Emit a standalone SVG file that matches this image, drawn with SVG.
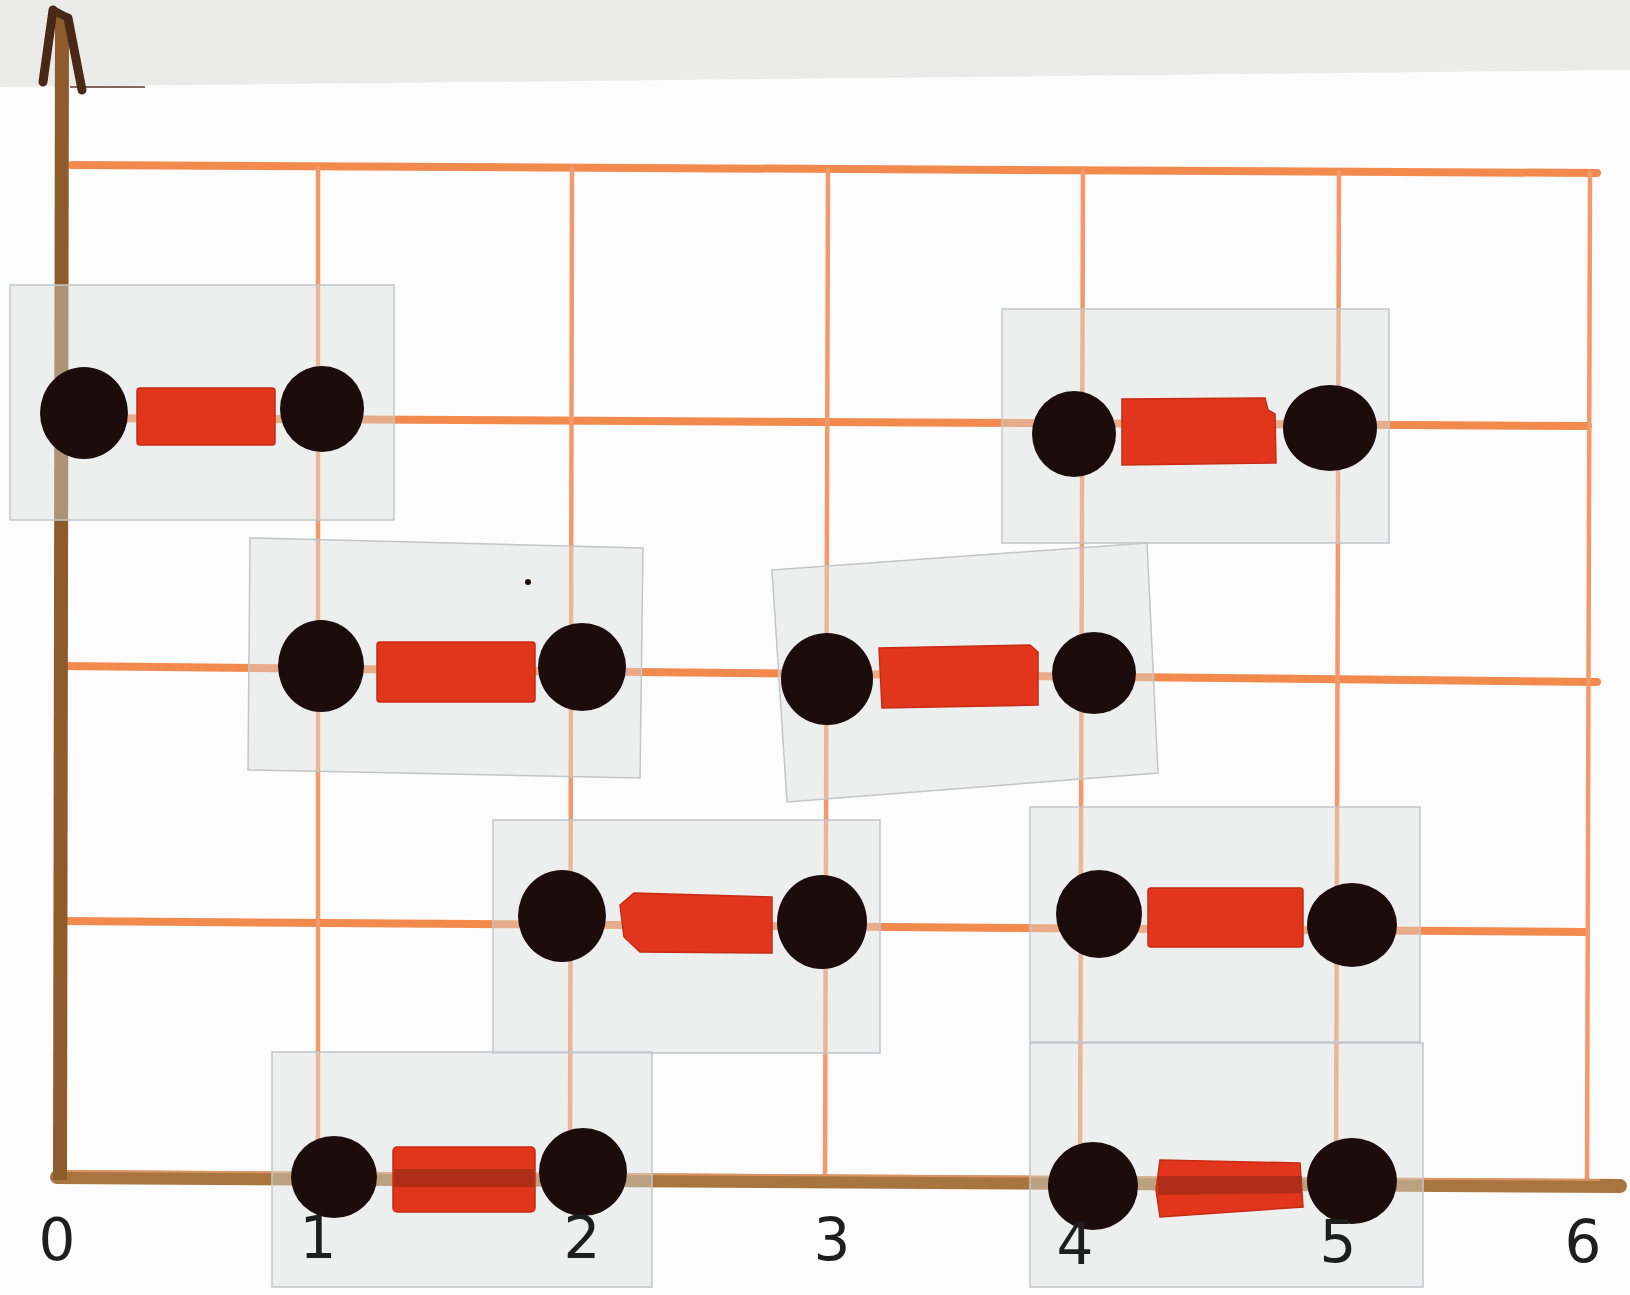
<svg xmlns="http://www.w3.org/2000/svg" width="1630" height="1295" viewBox="0 0 1630 1295">
<style>
.h{stroke:#f28a4e;stroke-width:8;stroke-linecap:round;fill:none}
.v{stroke:#f29a6c;stroke-width:4.5;stroke-linecap:round;fill:none}
.sheet{fill:#d9dddd;fill-opacity:0.42;stroke:#c2c6c6;stroke-width:1.5}
.bead{fill:#1c0d0c}
.tube{fill:#e2361c;stroke:#c92a14;stroke-width:1.5}
.band{fill:#9c2c16;opacity:0.75}
.num{font-family:"DejaVu Sans",sans-serif;font-size:58px;fill:#1e1e1e;text-anchor:middle}
</style>
<rect x="0" y="0" width="1630" height="1295" fill="#fcfcfc"/>
<polygon points="0,0 1630,0 1630,70 0,87" fill="#ebebea"/>
<line x1="70" y1="87" x2="145" y2="87" stroke="#5a3a2a" stroke-width="1.5"/>

<g id="connectors">
  <g id="grid">
    <line class="h" x1="72" y1="165" x2="1597" y2="173"/>
    <line class="h" x1="63" y1="418" x2="1588" y2="426"/>
    <line class="h" x1="63" y1="666" x2="1597" y2="682"/>
    <line class="h" x1="63" y1="921" x2="1585" y2="932"/>
    <line class="v" x1="318" y1="168" x2="318" y2="1178"/>
    <line class="v" x1="572" y1="169" x2="570" y2="1178"/>
    <line class="v" x1="828" y1="170" x2="825" y2="1180"/>
    <line class="v" x1="1083" y1="171" x2="1080" y2="1181"/>
    <line class="v" x1="1339" y1="172" x2="1336" y2="1183"/>
    <line class="v" x1="1590" y1="173" x2="1587" y2="1184"/>
  </g>
  <g id="axes">
    <line x1="57" y1="1177" x2="1620" y2="1186" stroke="#a8753f" stroke-width="14" stroke-linecap="round"/>
    <line x1="60" y1="1171" x2="1600" y2="1180" stroke="#f0a070" stroke-width="2" opacity="0.7"/>
    <line x1="62" y1="14" x2="60" y2="1180" stroke="#8e5c2c" stroke-width="14"/>
    <path d="M53,10 L43,82" stroke="#4a2818" stroke-width="9" stroke-linecap="round" fill="none"/>
    <path d="M68,18 L82,90" stroke="#4a2818" stroke-width="9" stroke-linecap="round" fill="none"/>
    <path d="M53,10 L68,18" stroke="#4a2818" stroke-width="8" stroke-linecap="round" fill="none"/>
  </g>
</g>

<g id="m1">
  <rect class="sheet" x="10" y="285" width="384" height="235"/>
  <ellipse class="bead" cx="84" cy="413" rx="44" ry="46"/>
  <rect class="tube" x="137" y="388" width="138" height="57" rx="3"/>
  <ellipse class="bead" cx="322" cy="409" rx="42" ry="43"/>
</g>
<g id="m2">
  <rect class="sheet" x="1002" y="309" width="387" height="234"/>
  <ellipse class="bead" cx="1074" cy="434" rx="42" ry="43"/>
  <polygon class="tube" points="1122,399 1265,398 1268,410 1275,414 1276,463 1122,465"/>
  <ellipse class="bead" cx="1330" cy="428" rx="47" ry="43"/>
</g>
<g id="m3">
  <polygon class="sheet" points="250,538 643,548 640,778 248,770"/>
  <circle cx="528" cy="582" r="3" fill="#1c0d0c"/>
  <ellipse class="bead" cx="321" cy="666" rx="43" ry="46"/>
  <rect class="tube" x="377" y="642" width="158" height="60" rx="3"/>
  <ellipse class="bead" cx="582" cy="667" rx="44" ry="44"/>
</g>
<g id="m4">
  <polygon class="sheet" points="772,570 1147,543 1158,773 787,802"/>
  <ellipse class="bead" cx="827" cy="679" rx="46" ry="46"/>
  <polygon class="tube" points="879,648 1030,645 1038,652 1038,705 882,708"/>
  <ellipse class="bead" cx="1094" cy="673" rx="42" ry="41"/>
</g>
<g id="m5">
  <rect class="sheet" x="493" y="820" width="387" height="233"/>
  <ellipse class="bead" cx="562" cy="916" rx="44" ry="46"/>
  <polygon class="tube" points="620,905 634,893 772,897 772,953 640,952 624,937"/>
  <ellipse class="bead" cx="822" cy="922" rx="45" ry="47"/>
</g>
<g id="m6">
  <rect class="sheet" x="1030" y="807" width="390" height="235"/>
  <ellipse class="bead" cx="1099" cy="914" rx="43" ry="44"/>
  <rect class="tube" x="1148" y="888" width="155" height="59" rx="3"/>
  <ellipse class="bead" cx="1352" cy="925" rx="45" ry="42"/>
</g>
<g id="m7">
  <rect class="sheet" x="272" y="1052" width="380" height="235"/>
  <ellipse class="bead" cx="334" cy="1177" rx="43" ry="41"/>
  <rect class="tube" x="393" y="1147" width="142" height="65" rx="4"/>
  <rect class="band" x="394" y="1169" width="140" height="18"/>
  <ellipse class="bead" cx="583" cy="1172" rx="44" ry="44"/>
</g>
<g id="m8">
  <rect class="sheet" x="1030" y="1043" width="393" height="244"/>
  <ellipse class="bead" cx="1093" cy="1186" rx="45" ry="44"/>
  <polygon class="tube" points="1160,1160 1300,1163 1303,1207 1160,1217 1156,1190"/>
  <polygon class="band" points="1158,1176 1302,1176 1302,1193 1158,1195"/>
  <ellipse class="bead" cx="1352" cy="1181" rx="45" ry="43"/>
</g>

<g id="labels">
  <text class="num" x="57" y="1260">0</text>
  <text class="num" x="318" y="1258">1</text>
  <text class="num" x="582" y="1258">2</text>
  <text class="num" x="832" y="1260">3</text>
  <text class="num" x="1075" y="1264">4</text>
  <text class="num" x="1338" y="1262">5</text>
  <text class="num" x="1583" y="1262">6</text>
</g>
</svg>
